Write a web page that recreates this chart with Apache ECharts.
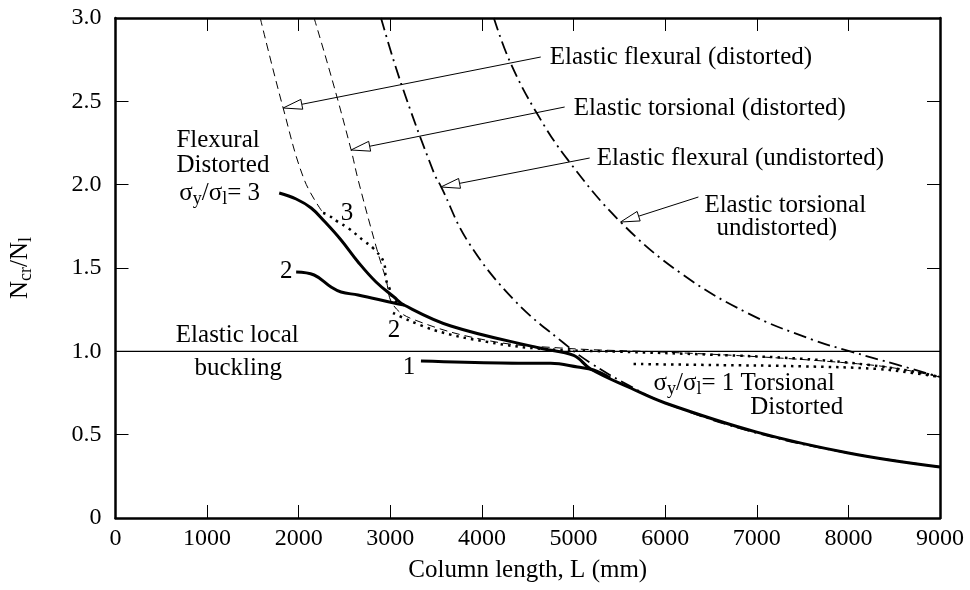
<!DOCTYPE html>
<html><head><meta charset="utf-8">
<script src="https://cdn.jsdelivr.net/npm/echarts/dist/echarts.min.js"></script>
<style>html,body{margin:0;padding:0;background:#fff}#c{width:970px;height:590px}</style>
</head><body><div id="c"></div>
<script>
// ---- data (column length L in mm, Ncr/Nl) ----
const xTicks = [0,1000,2000,3000,4000,5000,6000,7000,8000,9000];
const yTicks = [0,0.5,1.0,1.5,2.0,2.5,3.0];
const localBuckling   = [[0,1.0],[9000,1.0]];
const flexDistorted   = [[1580,3.0],[1830,2.46],[2060,2.03],[2266,1.83]];
const torsDistorted   = [[2168,3.0],[2375,2.61],[2571,2.21],[2648,2.03],[2844,1.63],[2953,1.43],[3029,1.28],[3258,1.19],[4064,1.065],[4860,1.02],[6000,0.995],[7000,0.968],[8000,0.93],[8500,0.9],[9000,0.846]];
const flexUndistorted = [[2898,3.0],[3116,2.61],[3476,2.07],[3552,1.99],[3846,1.66],[4347,1.31],[4892,1.05],[5186,0.93],[5622,0.79],[6000,0.69],[7000,0.51],[8000,0.39],[9000,0.306]];
const torsUndistorted = [[4130,3.0],[4304,2.74],[4587,2.44],[4936,2.15],[5513,1.776],[6167,1.47],[6897,1.23],[7616,1.068],[8019,1.0],[8531,0.92],[9000,0.846]];
const inelastic3 = [[1787,1.95],[1972,1.914],[2136,1.86],[2277,1.782],[2462,1.668],[2648,1.536],[2844,1.416],[3040,1.326],[3149,1.278],[3661,1.152],[4642,1.018],[5001,0.976],[5186,0.894],[5622,0.78],[6000,0.69],[7000,0.515],[8000,0.39],[9000,0.306]];
const inelastic2 = [[1972,1.476],[2168,1.458],[2353,1.386],[2462,1.356],[2648,1.338],[3040,1.29],[3149,1.278]];
const inelastic1 = [[3334,0.942],[4206,0.93],[4750,0.928],[5045,0.906],[5219,0.888],[5400,0.84]];
const dotted3 = [[2266,1.83],[2321,1.818],[2430,1.776],[2539,1.74],[2713,1.662],[2811,1.62],[2931,1.53],[2953,1.43],[2985,1.386],[3040,1.31],[3149,1.278]];
const dotted2 = [[3029,1.23],[3476,1.128],[4064,1.056],[4674,1.014],[5500,0.998],[6500,0.98],[7500,0.955],[8200,0.92],[8700,0.88],[9000,0.846]];
const dotted1 = [[5655,0.924],[6500,0.918],[7500,0.91],[8300,0.895],[8700,0.87],[9000,0.846]];
// annotation arrows: [tipL, tipN, tailL, tailN]
const arrows = [[1830,2.46,4642,2.766],[2571,2.208,4903,2.466],[3552,1.986,5176,2.16],[5513,1.776,6363,1.926]];
// annotation texts
const labelText = ['Elastic flexural (distorted)','Elastic torsional (distorted)','Elastic flexural (undistorted)','Elastic torsional','undistorted)',
  'Flexural','Distorted','{m|σ}{s|y}{m|/σ}{s|l}{m|= 3}','3','2','2','1','Elastic local','buckling','{m|σ}{s|y}{m|/σ}{s|l}{m|= 1 Torsional}','Distorted'];
const labelPos = [[4740,2.766],[5001,2.46],[5252,2.16],[6428,1.878],[6559,1.74],
  [665,2.268],[665,2.118],[697,1.95],[2528,1.83],[1863,1.482],[3040,1.128],[3203,0.906],[1329,1.098],[1340,0.9],[5873,0.81],[7943,0.666]];
const labelAlign = ['left','left','left','left','left','left','left','left','center','center','center','center','center','center','left','right'];

const F = '"Liberation Serif","Times New Roman",serif';
const FS = 25;
const rich = {
  m:{fontFamily:F,fontSize:FS,color:'#000'},
  s:{fontFamily:F,fontSize:18,color:'#000',padding:[12,0,0,0]}
};

const chart = echarts.init(document.getElementById('c'), null, {renderer:'canvas'});
const axisCommon = {
  axisLine:{onZero:false,lineStyle:{color:'#000',width:2.5}},
  axisTick:{inside:true,length:13,lineStyle:{color:'#000',width:1}},
  splitLine:{show:false}
};
function lineSeries(data, width, type, z){
  return {type:'line', data:data, showSymbol:false, symbol:'none', smooth:0.4,
    lineStyle:{color:'#000', width:width, type:type, cap:'butt'}, z:z, silent:true, animation:false};
}
chart.setOption({
  animation:false,
  grid:{left:114,right:30,top:18,bottom:72},
  xAxis:[
    Object.assign({type:'value',min:xTicks[0],max:xTicks[xTicks.length-1],interval:1000,position:'bottom',
      axisLabel:{color:'#000',fontFamily:F,fontSize:24,margin:9,formatter:v=>String(v)},
      name:'Column length, L (mm)',nameLocation:'middle',nameGap:40,
      nameTextStyle:{color:'#000',fontFamily:F,fontSize:FS}},axisCommon),
    Object.assign({type:'value',min:xTicks[0],max:xTicks[xTicks.length-1],interval:1000,position:'top',
      axisLabel:{show:false}},axisCommon)
  ],
  yAxis:[
    Object.assign({type:'value',min:yTicks[0],max:yTicks[yTicks.length-1],interval:0.5,position:'left',
      axisLabel:{color:'#000',fontFamily:F,fontSize:24,margin:14,formatter:v=>v===0?'0':v.toFixed(1)},
      name:'{m|N}{s|cr}{m|/N}{s|l}',nameLocation:'middle',nameGap:80,
      nameTextStyle:{rich:rich}},axisCommon),
    Object.assign({type:'value',min:yTicks[0],max:yTicks[yTicks.length-1],interval:0.5,position:'right',
      axisLabel:{show:false}},axisCommon)
  ],
  series:[
    Object.assign(lineSeries(localBuckling,1.4,'solid',2),{smooth:false}),
    lineSeries(flexDistorted,1,[8,5],3),
    lineSeries(torsDistorted,1,[8,5],3),
    lineSeries(flexUndistorted,1.8,[13,5,2,5],3),
    lineSeries(torsUndistorted,1.8,[13,5,2,5],3),
    lineSeries(dotted3,2.5,[2.5,5],4),
    lineSeries(dotted2,2.5,[2.5,5],4),
    lineSeries(dotted1,2.5,[2.5,5],4),
    lineSeries(inelastic3,3,'solid',5),
    lineSeries(inelastic2,3,'solid',5),
    lineSeries(inelastic1,3,'solid',5),
    {type:'custom',coordinateSystem:'cartesian2d',data:arrows,encode:{x:[0,2],y:[1,3]},clip:false,z:6,silent:true,
      renderItem:function(params,api){
        const tip=api.coord([api.value(0),api.value(1)]);
        const tail=api.coord([api.value(2),api.value(3)]);
        const dx=tail[0]-tip[0],dy=tail[1]-tip[1],len=Math.hypot(dx,dy),ux=dx/len,uy=dy/len;
        const hl=19,hw=5,bx=tip[0]+ux*hl,by=tip[1]+uy*hl;
        return {type:'group',children:[
          {type:'line',shape:{x1:bx,y1:by,x2:tail[0],y2:tail[1]},style:{stroke:'#000',lineWidth:1}},
          {type:'polygon',shape:{points:[tip,[bx-uy*hw,by+ux*hw],[bx+uy*hw,by-ux*hw]]},style:{fill:'#fff',stroke:'#000',lineWidth:1}}
        ]};
      }},
    {type:'custom',coordinateSystem:'cartesian2d',data:labelPos,clip:false,z:7,silent:true,
      renderItem:function(params,api){
        const p=api.coord([api.value(0),api.value(1)]);
        const i=params.dataIndex;
        return {type:'text',x:p[0],y:p[1],style:{text:labelText[i],rich:rich,fontFamily:F,fontSize:FS,fill:'#000',
          align:labelAlign[i],verticalAlign:'middle'}};
      }}
  ]
});
</script></body></html>
